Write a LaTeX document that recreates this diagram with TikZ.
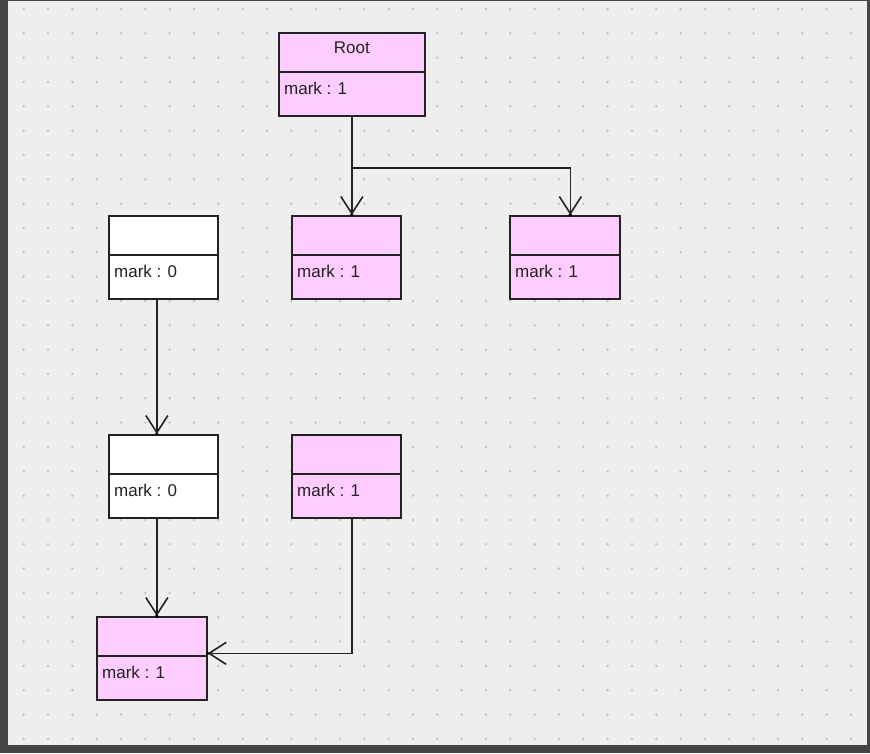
\documentclass[tikz,border=0pt]{standalone}
\usepackage{fontspec}
\setmainfont{Liberation Sans}
\usetikzlibrary{arrows.meta}
\definecolor{canvasbg}{HTML}{EEEEEE}
\definecolor{frame}{HTML}{454545}
\definecolor{dotc}{HTML}{C4C4C4}
\definecolor{pinkfill}{HTML}{FFCCFF}
\definecolor{ink}{HTML}{222222}
\newcommand\mkclass[7]{%
  \node[umlbox, fill=#2, minimum width=#5pt] (#1) at (#3,#4) {};
  \draw[divider] ([yshift=-40pt]#1.north west) -- ([yshift=-40pt]#1.north east);
  \node[lbl, anchor=base] (#1-title) at ([yshift=-21.5pt]#1.north) {#6};
  \node[lbl, anchor=base west] (#1-attr) at ([xshift=6pt,yshift=-62pt]#1.north west) {mark : #7};
}
\begin{document}
\begin{tikzpicture}[x=1pt,y=-1pt,
  umlbox/.style={draw=ink, line width=1.7pt, anchor=north west, inner sep=0pt, minimum height=83pt},
  divider/.style={draw=ink, line width=1.4pt},
  lbl/.style={font=\fontsize{17}{20}\selectfont, text=ink, inner sep=0pt},
  conn/.style={draw=ink, line width=1.6pt, -{Straight Barb[length=17pt,width=22pt]}},
  tipdot/.style={fill=black}]
\useasboundingbox (0,0) rectangle (870,753);
\fill[frame] (0,0) rectangle (870,753);
\fill[canvasbg] (8,1) rectangle (867,745);
\foreach \i in {0,...,34}{\foreach \j in {0,...,30}{\fill[dotc] (23.7+24.33*\i, 9+24.33*\j) circle (1.4pt);}}
\mkclass{root}{pinkfill}{278}{32}{146}{Root}{1}
\mkclass{b1}{white}{108}{215}{109}{}{0}
\mkclass{b2}{pinkfill}{291}{215}{109}{}{1}
\mkclass{b3}{pinkfill}{509}{215}{110}{}{1}
\mkclass{b4}{white}{108}{434}{109}{}{0}
\mkclass{b5}{pinkfill}{291}{434}{109}{}{1}
\mkclass{b6}{pinkfill}{96}{616}{110}{}{1}
\path (root.south) ++(0,51) coordinate (split);
\draw[conn] (root.south) -- (root.south |- b2.north);
\draw[conn] (split) -| ([xshift=5.5pt]b3.north);
\draw[conn] ([xshift=-6.5pt]b1.south) -- ([xshift=-6.5pt]b4.north);
\draw[conn] ([xshift=-6.5pt]b4.south) -- ([xshift=-6.5pt]b4.south |- b6.north);
\draw[conn] ([xshift=5.5pt]b5.south) |- ([yshift=5pt]b6.east);
\fill[tipdot] (root.south |- b2.north) circle (1.9pt);
\fill[tipdot] ([xshift=5.5pt]b3.north) circle (1.9pt);
\fill[tipdot] ([xshift=-6.5pt]b4.north) circle (1.9pt);
\fill[tipdot] ([xshift=-6.5pt]b4.south |- b6.north) circle (1.9pt);
\fill[tipdot] ([yshift=5pt]b6.east) circle (1.9pt);
\end{tikzpicture}
\end{document}
